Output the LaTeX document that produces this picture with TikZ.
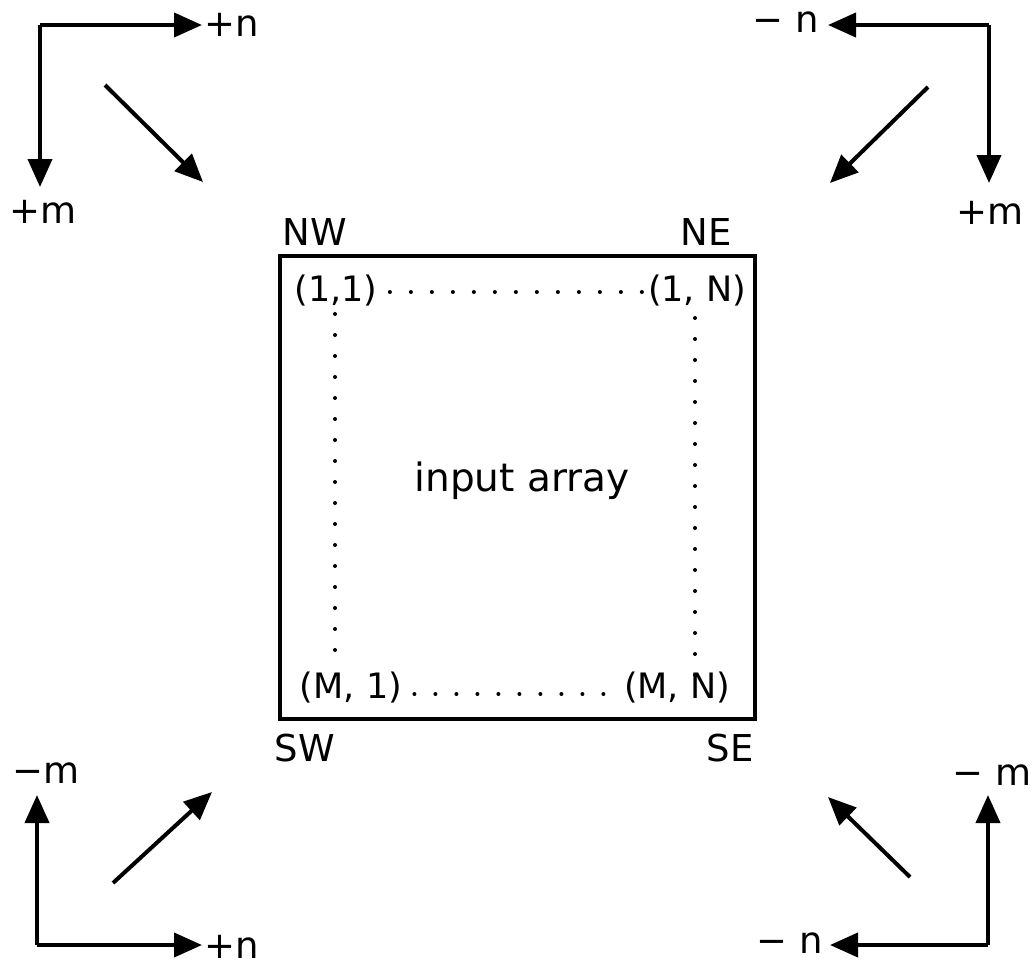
\documentclass[tikz,border=0pt]{standalone}
\usepackage{fontspec}
\setmainfont{DejaVu Sans}
\usetikzlibrary{arrows.meta}
\begin{document}
\begin{tikzpicture}[x=0.5pt,y=-0.5pt,
  lbl/.style={inner sep=0pt,font=\fontsize{18.5}{22}\selectfont},
  clbl/.style={inner sep=0pt,font=\fontsize{17.5}{21}\selectfont},
  axis/.style={line width=2pt,-{Triangle[length=14pt,width=12pt]}},
  frame/.style={line width=1.8pt},
  dotline/.style={line width=2pt,line cap=round,dash pattern=on 0pt off 10.5pt}]
\useasboundingbox (0,0) rectangle (1034,970);
% box
\node[draw,frame,minimum width=237.5pt,minimum height=231.5pt,inner sep=0pt] (box) at (517.5,487.5) {};
\node[inner sep=0pt,font=\fontsize{19.5}{23}\selectfont] (inp) at (522,481) {input array};
\node[lbl] (nw) at (315,232) {NW};
\node[lbl] (ne) at (706,232) {NE};
\node[lbl] (sw) at (305,748) {SW};
\node[lbl] (se) at (730,748) {SE};
\node[clbl] (a11) at (336,291) {(1,1)};
\node[clbl] (a1N) at (697,291) {(1, N)};
\node[clbl] (aM1) at (351,688) {(M, 1)};
\node[clbl] (aMN) at (677,688) {(M, N)};
\draw[dotline] ([xshift=6pt,yshift=-0.5pt]a11.east) -- ([xshift=-2pt,yshift=-0.5pt]a1N.west);
\draw[dotline] ([xshift=6pt,yshift=-3pt]aM1.east) -- ([xshift=-2pt,yshift=-3pt]aMN.west);
\draw[dotline] (335,314) -- (335,670);
\draw[dotline] (695,318) -- (695,675);
% top-left axes
\coordinate (tlc) at (40,25);
\coordinate (tlh) at (202,25);
\coordinate (tlv) at (40,187);
\coordinate (tld1) at (105,85);
\coordinate (tld2) at (203,182);
\node[lbl] (tln) at (232,25) {+n};
\node[lbl] (tlm) at (43,212) {+m};
\draw[axis] (tlc) -- (tlh);
\draw[axis] (tlc) -- (tlv);
\draw[axis] (tld1) -- (tld2);
% top-right axes
\coordinate (trc) at (989,25);
\coordinate (trh) at (828,25);
\coordinate (trv) at (989,183);
\coordinate (trd1) at (928,87);
\coordinate (trd2) at (830,183);
\node[lbl] (trn) at (786,22) {− n};
\node[lbl] (trm) at (990,213) {+m};
\draw[axis] (trc) -- (trh);
\draw[axis] (trc) -- (trv);
\draw[axis] (trd1) -- (trd2);
% bottom-left axes
\coordinate (blc) at (37,945);
\coordinate (blh) at (202,945);
\coordinate (blv) at (37,795);
\coordinate (bld1) at (113,883);
\coordinate (bld2) at (212,792);
\node[lbl] (bln) at (232,947) {+n};
\node[lbl] (blm) at (46,773) {−m};
\draw[axis] (blc) -- (blh);
\draw[axis] (blc) -- (blv);
\draw[axis] (bld1) -- (bld2);
% bottom-right axes
\coordinate (brc) at (988,945);
\coordinate (brh) at (830,945);
\coordinate (brv) at (988,795);
\coordinate (brd1) at (910,877);
\coordinate (brd2) at (828,797);
\node[lbl] (brn) at (790,943) {− n};
\node[lbl] (brm) at (992,775) {− m};
\draw[axis] (brc) -- (brh);
\draw[axis] (brc) -- (brv);
\draw[axis] (brd1) -- (brd2);
\end{tikzpicture}
\end{document}
